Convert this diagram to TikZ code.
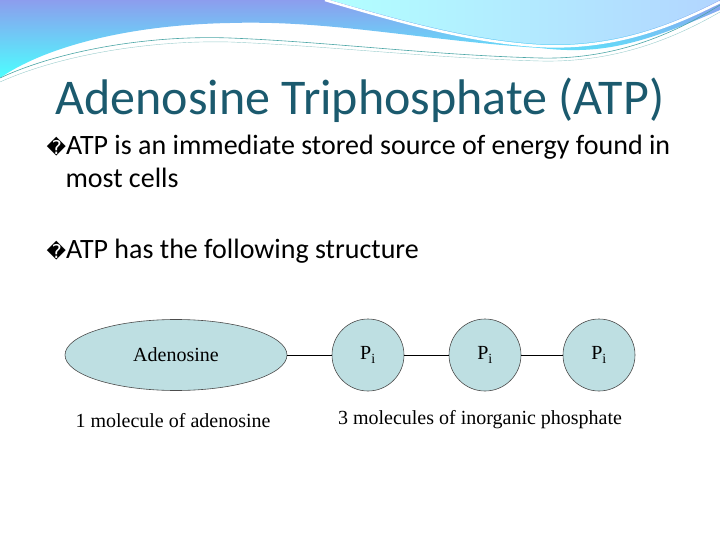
\documentclass[tikz,border=0pt]{standalone}
\usepackage{fontspec}
\usetikzlibrary{shapes.geometric}
\setmainfont{Carlito}
\newfontfamily\serifb{Liberation Serif}
\newfontfamily\dejavu{DejaVu Sans}
\definecolor{molfill}{HTML}{BEDFE2}
\definecolor{titlecol}{HTML}{1B5A6E}
\begin{document}
\begin{tikzpicture}[x=1pt,y=-1pt,
  mol/.style={draw=black!70,fill=molfill,line width=0.6pt},
  bond/.style={draw=black,line width=0.5pt},
  lbl/.style={font=\serifb\fontsize{20}{22}\selectfont},
  bul/.style={anchor=west,font=\fontsize{28}{32}\selectfont}]
\useasboundingbox (0,0) rectangle (720,540);
% top wave
\shade[top color=teal!30!blue!45!white, bottom color=cyan!70!white]
  (0,0) -- (720,0) -- (720,10) .. controls (640,45) and (600,55) .. (540,48)
  .. controls (420,40) and (330,20) .. (230,23) .. controls (120,25) and (40,50) .. (0,78) -- cycle;
\shade[left color=cyan!30!white, right color=cyan!45!blue!30!white]
  (330,0) .. controls (400,20) and (470,40) .. (540,44) .. controls (620,48) and (680,20) .. (720,0) -- cycle;
\draw[white,line width=2.5pt] (325,0) .. controls (400,22) and (470,42) .. (540,46) .. controls (620,50) and (680,22) .. (720,2);
\draw[teal!70,line width=0.6pt] (0,78) .. controls (60,50) and (150,35) .. (230,38) .. controls (330,42) and (430,55) .. (540,58) .. controls (620,60) and (680,30) .. (720,5);
\draw[teal!40,line width=0.4pt] (0,82) .. controls (60,55) and (150,40) .. (230,42) .. controls (330,46) and (430,58) .. (540,61) .. controls (620,63) and (680,35) .. (720,12);
% title
\node[text=titlecol, font=\fontsize{50}{56}\selectfont] (title) at (360,100) {Adenosine Triphosphate (ATP)};
\node[bul] (b1) at (43,147) {{\dejavu\fontsize{19}{22}\selectfont �}ATP is an immediate stored source of energy found in};
\node[bul] (b1b) at (62,178) {most cells};
\node[bul] (b2) at (43,251) {{\dejavu\fontsize{19}{22}\selectfont �}ATP has the following structure};
% molecules
\node[mol,ellipse,minimum width=222,minimum height=71,inner sep=0,lbl] (ad) at (176,355) {Adenosine};
\node[mol,circle,minimum size=72,inner sep=0,lbl] (p1) at (368,355) {P\textsubscript{i}};
\node[mol,circle,minimum size=72,inner sep=0,lbl] (p2) at (485,355) {P\textsubscript{i}};
\node[mol,circle,minimum size=72,inner sep=0,lbl] (p3) at (599,355) {P\textsubscript{i}};
\draw[bond] (ad) -- (p1);
\draw[bond] (p1) -- (p2);
\draw[bond] (p2) -- (p3);
\node[lbl] (l1) at (173,421) {1 molecule of adenosine};
\node[lbl] (l2) at (480,420) {3 molecules of inorganic phosphate};
\end{tikzpicture}
\end{document}
